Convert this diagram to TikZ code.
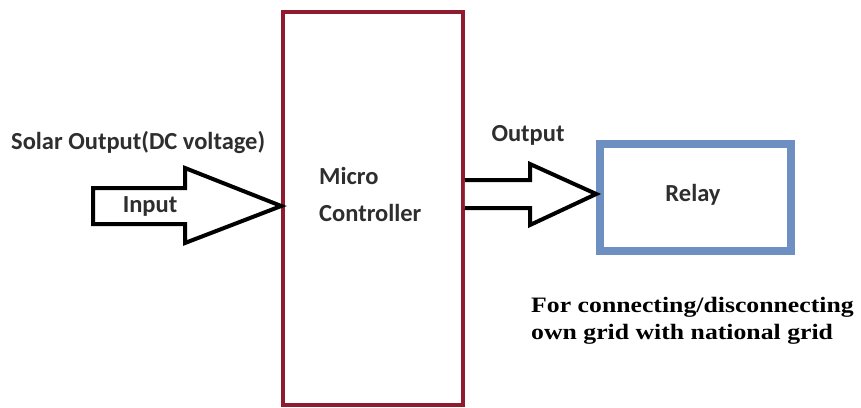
\documentclass[tikz,border=0pt]{standalone}
\usepackage{fontspec}
\setmainfont{Carlito}
\newfontfamily\notefont{Liberation Serif}
\begin{document}
\begin{tikzpicture}[x=1pt,y=-1pt,
  lbl/.style={font=\fontsize{24.5}{26}\selectfont\bfseries, text=black!82, inner sep=0pt},
  fatarrow/.style={draw=black, line width=4pt, fill=white, line join=miter},
  mcbox/.style={draw=mcred, line width=3.5pt, inner sep=0pt},
  relaybox/.style={draw=relayblue, line width=7.5pt, inner sep=0pt}]
\definecolor{mcred}{HTML}{8E1C2E}
\definecolor{relayblue}{HTML}{6E8FC2}
\useasboundingbox (0,0) rectangle (861,407);

% blocks
\node[mcbox, minimum width=180pt, minimum height=393pt] (mc) at (373,208.5) {};
\node[relaybox, minimum width=191pt, minimum height=107pt] (relay) at (695.5,197.5) {};

% input block arrow ending on the controller
\coordinate (inS) at (93,206);
\draw[fatarrow] (inS) ++(0,-18) -- ++(92,0) -- ++(0,-20) -- (mc.west |- inS)
  -- (185,243) -- (185,224) -- (93,224) -- cycle;

% output block arrow from the controller to the relay
\coordinate (outS) at (mc.east |- 0,194);
\draw[fatarrow] (outS) ++(0,-14) -- (530,180) -- (530,164) -- (relay.west |- outS)
  -- (530,225) -- (530,208) -- (mc.east |- 0,208);

% labels
\node[lbl, anchor=west] (solar) at (11,142) {Solar Output(DC voltage)};
\node[lbl] (input) at (150,206) {Input};
\node[lbl] (output) at (528,135) {Output};
\node[lbl, anchor=west, align=left, font=\fontsize{24.5}{37}\selectfont\bfseries] (mctext) at (319,194) {Micro\\Controller};
\node[lbl] (relaytext) at (693,195) {Relay};
\node[anchor=west, align=left, inner sep=0pt, text=black, xscale=1.17,
  font=\notefont\fontsize{22}{27}\selectfont\bfseries] (note) at (531,321)
  {For connecting/disconnecting\\own grid with national grid};
\end{tikzpicture}
\end{document}
